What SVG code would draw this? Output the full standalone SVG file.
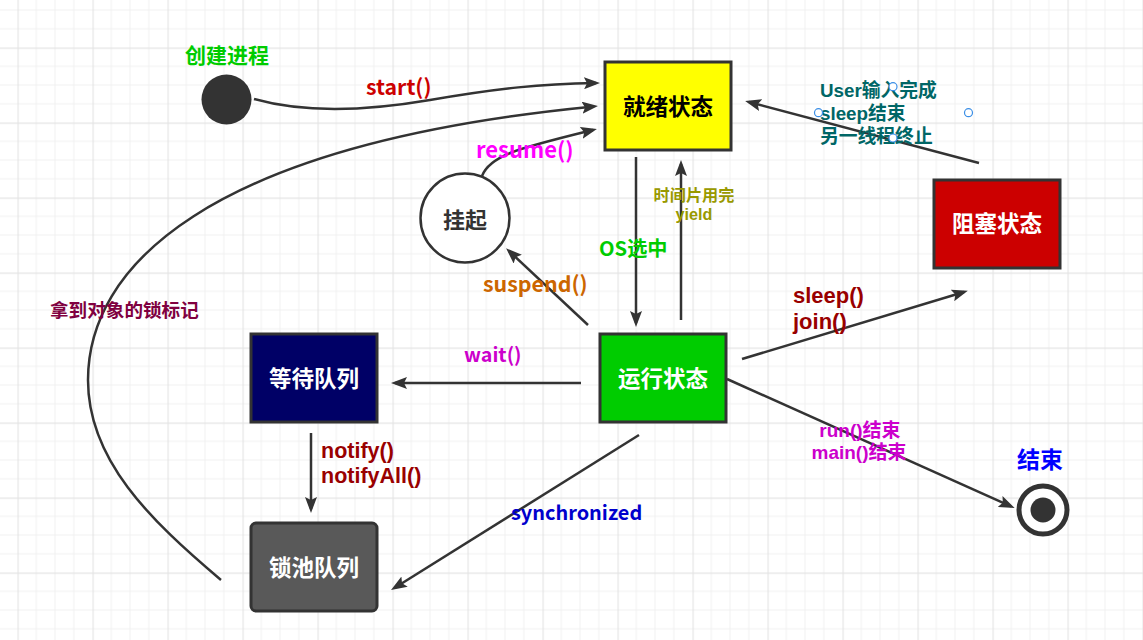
<svg xmlns="http://www.w3.org/2000/svg" width="1143" height="640" viewBox="0 0 1143 640">
<defs>
<pattern id="grid" patternUnits="userSpaceOnUse" x="17.5" y="47.5" width="75" height="75">
<path d="M18.75 0V75M37.5 0V75M56.25 0V75M0 18.75H75M0 37.5H75M0 56.25H75" stroke="#f0f0f0" stroke-width="1" fill="none"/>
<path d="M0.5 0V75M0 0.5H75" stroke="#e4e4e4" stroke-width="1.3" fill="none"/>
</pattern>
<marker id="arr" viewBox="0 0 16 12" markerWidth="16" markerHeight="12" markerUnits="userSpaceOnUse" refX="12" refY="6" orient="auto">
<path d="M0,0 L16,6 L0,12 L3,6 z" fill="#333"/>
</marker>
<style>
text{font-family:"Noto Sans CJK SC","Microsoft YaHei",sans-serif;font-weight:bold}
text.ls{font-family:"Liberation Sans","Noto Sans CJK SC",sans-serif}
.box{stroke:#333;stroke-width:3}
.c{fill:none;stroke:#333;stroke-width:2.5;marker-end:url(#arr)}
.nt{font-size:22.5px;text-anchor:middle;fill:#fff}
.h{fill:#fff;stroke:#3a8ee6;stroke-width:1.2}
</style>
</defs>
<rect width="1143" height="640" fill="#fff"/>
<rect width="1143" height="640" fill="url(#grid)"/>

<g id="connectors">
<path class="c" d="M254,99 C300,112 360,112 430,100 S540,84 596,83"/>
<path class="c" d="M221,580 C150,520 88,460 88,380 C88,270 200,145 594,106.5"/>
<path class="c" d="M482,176 C490,155 520,148 593,130"/>
<path class="c" d="M636,157 V323"/>
<path class="c" d="M681,320 V164"/>
<path class="c" d="M588,325 L509,251"/>
<path class="c" d="M979,163 L749,102"/>
<path class="c" d="M742,359 L964,292"/>
<path class="c" d="M727,379 L1011,506.4"/>
<path class="c" d="M581,383 H395"/>
<path class="c" d="M311,433 V509"/>
<path class="c" d="M639,435 L394.4,588"/>
</g>

<g id="labels">
<text x="366" y="95" font-size="21.3" fill="#cc0000">start()</text>
<text x="476" y="158" font-size="22" fill="#ff00ff">resume()</text>
<text x="599" y="256" font-size="20.2" fill="#00cc00">OS选中</text>
<text class="ls" font-size="16.2" fill="#999900" text-anchor="middle"><tspan x="694" y="201">时间片用完</tspan><tspan x="694" y="220">yield</tspan></text>
<text x="483" y="292" font-size="21.4" fill="#cc6600">suspend()</text>
<text class="ls" font-size="18.8" fill="#006666"><tspan x="820" y="97">User输入完成</tspan><tspan x="820" y="120">sleep结束</tspan><tspan x="820" y="143">另一线程终止</tspan></text>
<text class="ls" font-size="22" fill="#990000"><tspan x="793" y="303">sleep()</tspan><tspan x="793" y="329">join()</tspan></text>
<text class="ls" font-size="19" fill="#cc00cc" text-anchor="middle"><tspan x="860" y="437">run()结束</tspan><tspan x="859" y="459">main()结束</tspan></text>
<text x="464" y="362" font-size="19.7" fill="#cc00cc">wait()</text>
<text class="ls" font-size="21.5" fill="#990000"><tspan x="321" y="458">notify()</tspan><tspan x="321" y="483">notifyAll()</tspan></text>
<text x="511" y="520" font-size="19.9" fill="#0000cc">synchronized</text>
<text x="50" y="317" font-size="18.6" fill="#800040">拿到对象的锁标记</text>
</g>

<g id="start">
<circle cx="226.5" cy="99.5" r="25" fill="#333"/>
<text x="227" y="63" font-size="21" fill="#00cc00" text-anchor="middle">创建进程</text>
</g>

<g id="ready">
<rect class="box" x="605" y="62" width="126" height="88" fill="#ffff00"/>
<text class="nt" x="668" y="115" style="fill:#000">就绪状态</text>
</g>

<g id="blocked">
<rect class="box" x="934" y="180" width="126" height="88" fill="#cc0000"/>
<text class="nt" x="997" y="232">阻塞状态</text>
</g>

<g id="running">
<rect class="box" x="600" y="334" width="126" height="88" fill="#00cc00"/>
<text class="nt" x="663" y="387">运行状态</text>
</g>

<g id="waiting">
<rect class="box" x="251" y="334" width="126" height="88" fill="#000066"/>
<text class="nt" x="314" y="387">等待队列</text>
</g>

<g id="lockpool">
<rect class="box" x="251" y="523" width="126" height="88" rx="5" fill="#595959"/>
<text class="nt" x="314" y="576">锁池队列</text>
</g>

<g id="suspended">
<circle cx="465" cy="218" r="44.5" fill="#fff" stroke="#333" stroke-width="2.5"/>
<text x="465" y="228" font-size="22" fill="#333" text-anchor="middle">挂起</text>
</g>

<g id="end">
<circle cx="1043" cy="510" r="24" fill="#fff" stroke="#333" stroke-width="5"/>
<circle cx="1043" cy="510" r="12.5" fill="#333"/>
<text x="1040" y="468" font-size="23" fill="#0000ff" text-anchor="middle">结束</text>
</g>

<g id="handles">
<circle class="h" cx="818.5" cy="112.7" r="4"/>
<circle class="h" cx="893" cy="86.7" r="4"/>
<circle class="h" cx="893" cy="138" r="4"/>
<circle class="h" cx="968.5" cy="112.7" r="4"/>
</g>
</svg>
